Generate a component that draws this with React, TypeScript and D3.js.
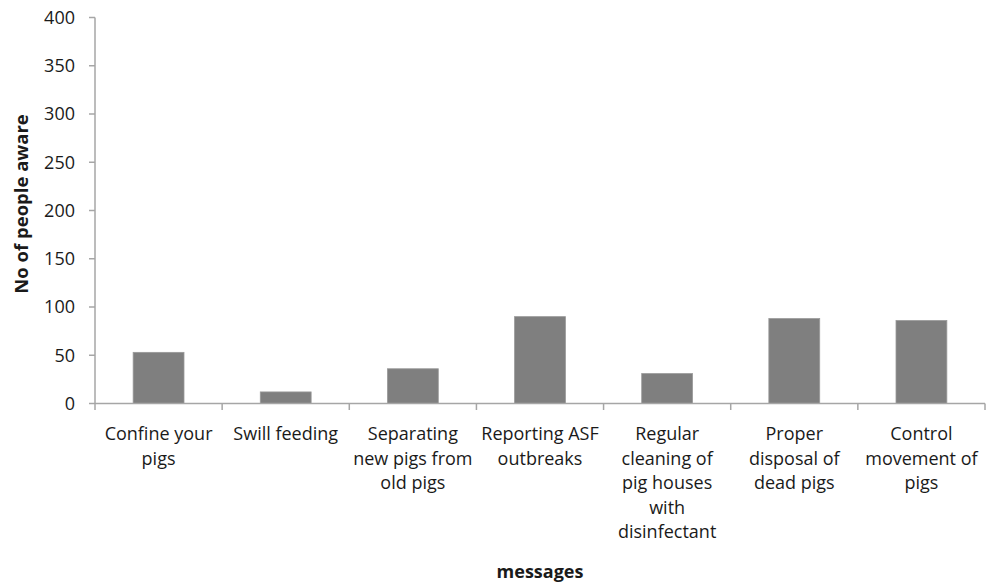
import React from "react";
import * as d3 from "d3";

const categories: string[] = [
  "Confine your pigs",
  "Swill feeding",
  "Separating new pigs from old pigs",
  "Reporting ASF outbreaks",
  "Regular cleaning of pig houses with disinfectant",
  "Proper disposal of dead pigs",
  "Control movement of pigs",
];
const categoryLines: string[][] = [
  ["Confine your", "pigs"],
  ["Swill feeding"],
  ["Separating", "new pigs from", "old pigs"],
  ["Reporting ASF", "outbreaks"],
  ["Regular", "cleaning of", "pig houses", "with", "disinfectant"],
  ["Proper", "disposal of", "dead pigs"],
  ["Control", "movement of", "pigs"],
];
const values: number[] = [53, 12, 36, 90, 31, 88, 86];
const yTicks: number[] = [0, 50, 100, 150, 200, 250, 300, 350, 400];
const yTitle = "No of people aware";
const xTitle = "messages";

const W = 995;
const H = 584;
const left = 95;
const right = 985;
const top = 17.5;
const bottom = 403.5;
const FONT = "'Open Sans', sans-serif";
const TEXT = "#1a1a1a";
const AXIS = "#a6a6a6";

export default function App() {
  const x = d3
    .scaleBand<string>()
    .domain(categories)
    .range([left, right])
    .paddingInner(0.6)
    .paddingOuter(0.3);
  const y = d3.scaleLinear().domain([0, 400]).range([bottom, top]);
  const step = x.step();
  const boundaries = d3.range(categories.length + 1).map((i) => left + i * step);

  return (
    <svg
      width={W}
      height={H}
      style={{ position: "absolute", left: 0, top: 0, background: "#fff" }}
    >
      {/* bars */}
      {categories.map((c, i) => (
        <rect
          key={c}
          x={x(c)!}
          y={y(values[i])}
          width={x.bandwidth()}
          height={y(0) - y(values[i])}
          fill="#7f7f7f"
          stroke="#999999"
          strokeWidth={0.8}
        />
      ))}
      {/* y axis */}
      <line x1={left} x2={left} y1={top} y2={bottom} stroke={AXIS} strokeWidth={1.5} />
      {yTicks.map((t) => (
        <g key={t}>
          <line x1={left - 6} x2={left} y1={y(t)} y2={y(t)} stroke={AXIS} strokeWidth={1.5} />
          <text
            x={left - 20}
            y={y(t)}
            dy="0.36em"
            textAnchor="end"
            fontFamily={FONT}
            fontSize={18}
            fill={TEXT}
          >
            {t}
          </text>
        </g>
      ))}
      {/* x axis */}
      <line x1={left} x2={right} y1={bottom} y2={bottom} stroke={AXIS} strokeWidth={1.5} />
      {boundaries.map((b, i) => (
        <line key={i} x1={b} x2={b} y1={bottom} y2={bottom + 6.5} stroke={AXIS} strokeWidth={1.5} />
      ))}
      {categories.map((c, i) => (
        <text
          key={c}
          textAnchor="middle"
          fontFamily={FONT}
          fontSize={18}
          fill={TEXT}
        >
          {categoryLines[i].map((ln, j) => (
            <tspan key={j} x={x(c)! + x.bandwidth() / 2} y={440 + j * 24.5}>
              {ln}
            </tspan>
          ))}
        </text>
      ))}
      {/* titles */}
      <text
        transform={`translate(28,204) rotate(-90)`}
        textAnchor="middle"
        fontFamily={FONT}
        fontWeight="bold"
        fontSize={18.5}
        fill={TEXT}
      >
        {yTitle}
      </text>
      <text
        x={(left + right) / 2}
        y={578}
        textAnchor="middle"
        fontFamily={FONT}
        fontWeight="bold"
        fontSize={18}
        fill={TEXT}
      >
        {xTitle}
      </text>
    </svg>
  );
}
